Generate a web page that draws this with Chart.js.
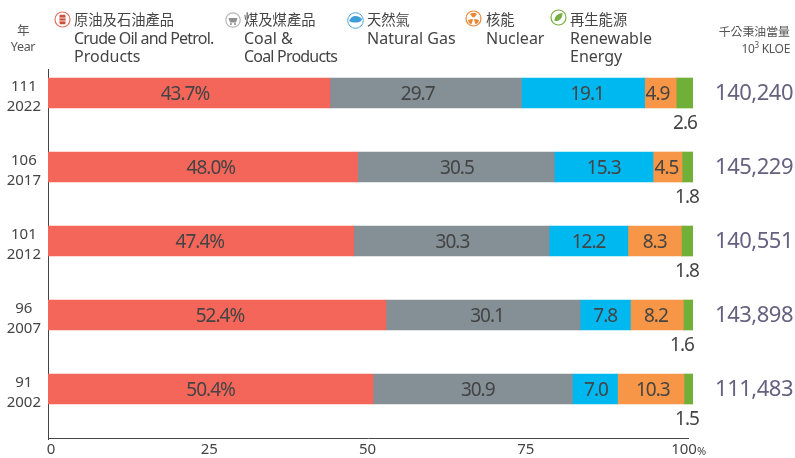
<!DOCTYPE html>
<html>
<head>
<meta charset="utf-8">
<script src="https://cdn.jsdelivr.net/npm/chart.js@4"></script>
<style>
  html, body { margin: 0; padding: 0; background: #fff; }
  #wrap { position: relative; width: 795px; height: 458px; overflow: hidden; font-family: "Noto Sans", "Noto Sans CJK TC", sans-serif; color: #444; }
  #chart { position: absolute; left: 0; top: 0; }
  .lbl { position: absolute; font-size: 16px; line-height: 18.5px; white-space: nowrap; }
  .lbl .zh { font-family: "Noto Sans CJK TC", sans-serif; font-size: 14.3px; }
  .tight { letter-spacing: -0.8px; }
  .icon { position: absolute; }
  .head { position: absolute; text-align: center; }
</style>
</head>
<body>
<div id="wrap">
  <canvas id="chart" width="795" height="458"></canvas>

  <div class="head" style="left:8px;top:22px;width:30px;font-size:12.5px;line-height:16px;color:#555;letter-spacing:-0.3px"><span style="font-family:'Noto Sans CJK TC'">年</span><br>Year</div>

  <svg class="icon" style="left:54px;top:11px" width="17" height="17" viewBox="0 0 17 17"><circle cx="8.5" cy="8.5" r="7.5" fill="#fff" stroke="#e2725f" stroke-width="1.2"/><rect x="5.5" y="3.8" width="6" height="9.4" rx="1.2" fill="#c9503f"/><path d="M5.5 7h6M5.5 10h6" stroke="#fff" stroke-width=".8"/></svg>
  <div class="lbl" style="left:74px;top:10px"><span class="zh">原油及石油產品</span><br><span class="tight">Crude Oil and Petrol.</span><br>Products</div>

  <svg class="icon" style="left:225px;top:12px" width="16" height="16" viewBox="0 0 16 16"><circle cx="8" cy="8" r="7.2" fill="#fff" stroke="#b5b5b5" stroke-width="1.2"/><path d="M3.5 6h9l-1.5 4.5h-6z" fill="#8f8f8f"/><circle cx="6" cy="12" r="1" fill="#8f8f8f"/><circle cx="10" cy="12" r="1" fill="#8f8f8f"/></svg>
  <div class="lbl" style="left:244px;top:10px"><span class="zh">煤及煤產品</span><br>Coal &amp;<br><span class="tight">Coal Products</span></div>

  <svg class="icon" style="left:347px;top:12px" width="17" height="17" viewBox="0 0 17 17"><circle cx="8.5" cy="8.5" r="7.8" fill="#fff" stroke="#4aa3d8" stroke-width="1"/><path d="M2 9c2-4 4-5 6.5-5S13 5 15 7l-1 2c-3 2-8 2-12 0z" fill="#3d9fd8"/></svg>
  <div class="lbl" style="left:367px;top:10px"><span class="zh">天然氣</span><br>Natural Gas</div>

  <svg class="icon" style="left:465px;top:10px" width="17" height="17" viewBox="0 0 17 17"><circle cx="8.5" cy="8.5" r="7.5" fill="#fff" stroke="#e8893a" stroke-width="1.2"/><path d="M8.5 8.5L5 3.9a6 6 0 0 1 7 0zM8.5 8.5l5.6 1.4a6 6 0 0 1-3.4 4.6zM8.5 8.5l-2.2 6a6 6 0 0 1-3.4-4.6z" fill="#e8893a"/><circle cx="8.5" cy="8.5" r="1.2" fill="#fff"/></svg>
  <div class="lbl" style="left:486px;top:10px"><span class="zh">核能</span><br>Nuclear</div>

  <svg class="icon" style="left:550px;top:9px" width="17" height="17" viewBox="0 0 17 17"><circle cx="8.5" cy="8.5" r="7.5" fill="#fff" stroke="#76b043" stroke-width="1.2"/><path d="M4.5 12c0-5 3-7.5 8-8 0 5-2.5 8.5-8 8z" fill="#76b043"/></svg>
  <div class="lbl" style="left:570px;top:10px"><span class="zh">再生能源</span><br>Renewable<br>Energy</div>

  <div class="head" style="left:700px;top:22px;width:90px;text-align:right;font-size:12px;line-height:17px;color:#555;letter-spacing:-0.3px"><span style="font-family:'Noto Sans CJK TC';letter-spacing:0;font-size:11.9px">千公秉油當量</span><br>10<sup style="font-size:8px;line-height:0">3</sup> KLOE</div>
</div>

<script>
'use strict';

const rocYears = ['111', '106', '101', '96', '91'];
const adYears = ['2022', '2017', '2012', '2007', '2002'];
const oil = [43.7, 48.0, 47.4, 52.4, 50.4];
const coal = [29.7, 30.5, 30.3, 30.1, 30.9];
const gas = [19.1, 15.3, 12.2, 7.8, 7.0];
const nuclear = [4.9, 4.5, 8.3, 8.2, 10.3];
const renewable = [2.6, 1.8, 1.8, 1.6, 1.5];
const totals = ['140,240', '145,229', '140,551', '143,898', '111,483'];
const xTicks = [0, 25, 50, 75, 100];

const textColor = '#444';
const fontName = '"Noto Sans", sans-serif';

//labels in the original are not quite centred in their bars
const labelShift = [
  [-4, 8, -1, 3, 0],
  [-8, 1, 1, 4, 5],
  [4, 0, 0, 0, 1],
  [-3, -1, 0, -1, 2]
];
const renewableX = [685, 687, 687, 682, 687];

function makeSeries(name, values, color) {
  return {
    label: name,
    data: values.map((v, i) => ({ x: v, y: i })),
    backgroundColor: color,
    barThickness: 30,
    borderWidth: 0
  };
}

//value labels, totals and the bottom axis line
const labelPlugin = {
  id: 'labelPlugin',
  afterDatasetsDraw(chart) {
    const ctx = chart.ctx;
    const area = chart.chartArea;
    ctx.save();
    ctx.strokeStyle = '#444';
    ctx.lineWidth = 1;
    ctx.beginPath();
    ctx.moveTo(area.left, area.bottom - 0.5);
    ctx.lineTo(689, area.bottom - 0.5);
    ctx.stroke();

    ctx.textAlign = 'center';
    ctx.textBaseline = 'middle';
    ctx.letterSpacing = '-1px';
    ctx.font = '19px ' + fontName;
    ctx.fillStyle = textColor;
    chart.data.datasets.forEach((ds, d) => {
      chart.getDatasetMeta(d).data.forEach((bar, i) => {
        const v = ds.data[i].x;
        if (d === 4) {
          ctx.fillText(v.toFixed(1), renewableX[i], bar.y + 31);
        } else {
          const text = d === 0 ? v.toFixed(1) + '%' : v.toFixed(1);
          ctx.fillText(text, (bar.x + bar.base) / 2 + labelShift[d][i], bar.y + 2);
        }
      });
    });

    ctx.letterSpacing = '-0.5px';
    ctx.textAlign = 'right';
    ctx.font = '22px ' + fontName;
    ctx.fillStyle = '#66617f';
    chart.getDatasetMeta(0).data.forEach((bar, i) => {
      ctx.fillText(totals[i], 793, bar.y + 1);
    });

    //small percent sign after the last tick
    ctx.letterSpacing = '0px';
    ctx.textAlign = 'left';
    ctx.font = '11px ' + fontName;
    ctx.fillStyle = textColor;
    ctx.fillText('%', chart.scales.xLabels.getPixelForValue(100) + 13, 452);
    ctx.restore();
  }
};

new Chart(document.getElementById('chart'), {
  type: 'bar',
  data: {
    datasets: [
      makeSeries('原油及石油產品', oil, '#f4665a'),
      makeSeries('煤及煤產品', coal, '#848f96'),
      makeSeries('天然氣', gas, '#00b8f0'),
      makeSeries('核能', nuclear, '#f79646'),
      makeSeries('再生能源', renewable, '#70b038')
    ]
  },
  plugins: [labelPlugin],
  options: {
    indexAxis: 'y',
    responsive: false,
    animation: false,
    layout: { padding: { left: 0, right: 102, top: 69, bottom: 0 } },
    plugins: { legend: { display: false }, tooltip: { enabled: false } },
    scales: {
      x: {
        stacked: true,
        type: 'linear',
        min: 0,
        max: 100,
        display: false
      },
      //tick labels sit a little inside the true positions in the original
      xLabels: {
        type: 'linear',
        axis: 'x',
        position: 'bottom',
        min: -0.47,
        max: 101.42,
        afterFit: (scale) => { scale.height = 19; },
        grid: { display: false, drawTicks: false },
        border: { display: false },
        afterBuildTicks: (scale) => { scale.ticks = xTicks.map((v) => ({ value: v })); },
        ticks: {
          autoSkip: false,
          maxRotation: 0,
          padding: 2,
          color: textColor,
          font: { family: fontName, size: 15 },
          callback: (v) => v
        }
      },
      y: {
        stacked: true,
        type: 'linear',
        reverse: true,
        offset: false,
        min: -0.3243,
        max: 4.6757,
        afterFit: (scale) => {
          scale.width = 48;
          scale.paddingTop = 0;
          scale.paddingBottom = 0;
        },
        grid: { display: false, drawTicks: false },
        border: { display: true, color: '#444', width: 1 },
        afterBuildTicks: (scale) => { scale.ticks = rocYears.map((_, i) => ({ value: i + 0.05 })); },
        ticks: {
          autoSkip: false,
          crossAlign: 'center',
          padding: 7,
          color: textColor,
          font: { family: fontName, size: 15, lineHeight: 1.36 },
          callback: (v, i) => [rocYears[i], adYears[i]]
        }
      }
    }
  }
});
</script>
</body>
</html>
